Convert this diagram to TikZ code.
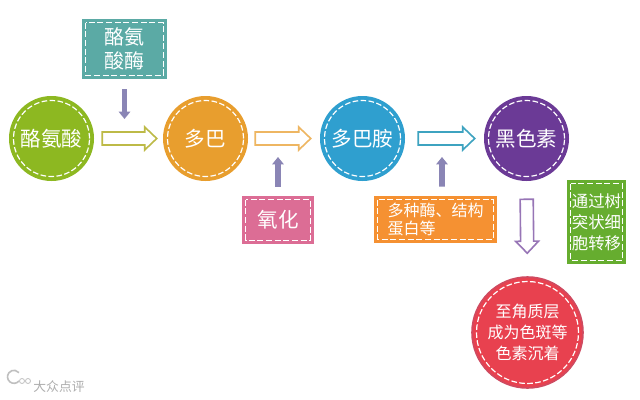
\documentclass[tikz,border=0pt]{standalone}
\usepackage{fontspec}
\setmainfont{Noto Sans CJK SC}
\usetikzlibrary{calc,arrows.meta}
\definecolor{cgreen}{HTML}{8DB821}
\definecolor{corange}{HTML}{E89E2E}
\definecolor{cblue}{HTML}{2F9FCF}
\definecolor{cpurple}{HTML}{6B3A96}
\definecolor{cred}{HTML}{E8414F}
\definecolor{credge}{HTML}{CF4A60}
\definecolor{bteal}{HTML}{5BAAA5}
\definecolor{bpink}{HTML}{DC6D95}
\definecolor{borange}{HTML}{F59132}
\definecolor{bgreen}{HTML}{66AD2F}
\definecolor{enz}{HTML}{8A85B5}
\tikzset{
  x=0.75pt,y=-0.75pt,
  ball/.style={circle,inner sep=0pt,minimum size=#1*0.75pt,text=white,align=center,
    path picture={\draw[white,line width=0.9pt,dash pattern=on 4.2pt off 1.8pt]
      (path picture bounding box.center) circle ({(#1/2-4.5)*0.75pt});}},
  tag/.style={rectangle,inner sep=0pt,text=white,
    path picture={\draw[white,line width=1.1pt,dash pattern=on 4.5pt off 2pt]
      ([xshift=2.8pt,yshift=-2.8pt]path picture bounding box.north west) rectangle
      ([xshift=-2.8pt,yshift=2.8pt]path picture bounding box.south east);}},
  big/.style={font=\fontsize{15.4pt}{18pt}\selectfont},
  enzarrow/.style={enz,line width=4.2pt,-{Triangle[length=5.5pt,width=8.5pt]}},
}
% colour, from, start gap, to, end gap
\newcommand{\hollowarrow}[5]{%
  \coordinate (hs) at ($(#2)!#3!(#4)$);
  \coordinate (he) at ($(#4)!#5!(#2)$);
  \coordinate (hb) at ($(he)!9pt!(hs)$);
  \draw[#1,fill=white,line width=1.2pt,line join=miter]
    ($(hs)!4.9pt!90:(he)$) -- ($(hb)!4.9pt!-90:(hs)$) -- ($(hb)!8.6pt!-90:(hs)$) -- (he)
    -- ($(hb)!8.6pt!90:(hs)$) -- ($(hb)!4.9pt!90:(hs)$) -- ($(hs)!4.9pt!-90:(he)$) -- cycle;
}
\begin{document}
\begin{tikzpicture}
\fill[white] (0,0) rectangle (640,400);
\useasboundingbox (0,0) rectangle (640,400);
% circles
\node[ball=85,fill=cgreen,big] (tyr) at (51.5,138.5) {酪氨酸};
\node[ball=85,fill=corange,big] (dopa) at (205.5,138.5) {多巴};
\node[ball=85,fill=cblue,big] (dopamine) at (362.5,138.5) {多巴胺};
\node[ball=85,fill=cpurple,big] (melanin) at (526.5,138.5) {黑色素};
\node[ball=111,fill=cred,draw=credge,line width=1.2pt,font=\fontsize{12pt}{15.8pt}\selectfont] (spot) at (527.5,332.5) {至角质层\\成为色斑等\\色素沉着};
% boxes
\node[tag,fill=bteal,minimum width=63.75pt,minimum height=45pt,align=center,
  font=\fontsize{15pt}{18pt}\selectfont] (enzyme) at (124.5,49) {酪氨\\酸酶};
\node[tag,fill=bpink,minimum width=54pt,minimum height=36pt,big] (oxid) at (278,220) {氧化};
\node[tag,fill=borange,minimum width=92.25pt,minimum height=35.25pt,align=left,
  font=\fontsize{12pt}{13pt}\selectfont] (protein) at (435.5,219.5) {多种酶、结构\\蛋白等};
\node[tag,fill=bgreen,minimum width=44.25pt,minimum height=63pt,align=center,
  font=\fontsize{12.3pt}{15.9pt}\selectfont] (transfer) at (596.5,222) {通过树\\突状细\\胞转移};
% free ends
\coordinate (t1) at (124.5,119);
\coordinate (t2) at (278,157);
\coordinate (t3) at (442,157);
% process arrows
\hollowarrow{cgreen!60!corange!85}{tyr.east}{6pt}{dopa.west}{4.5pt}
\hollowarrow{corange!75}{dopa.east}{5.25pt}{dopamine.west}{6.75pt}
\hollowarrow{cblue!65!bteal}{dopamine.east}{9.75pt}{melanin.west}{6.75pt}
\hollowarrow{cpurple!70}{melanin.south}{13.5pt}{spot.north}{17.25pt}
% regulators
\draw[enzarrow,shorten <=7.5pt] (enzyme.south) -- (t1);
\draw[enzarrow,shorten <=6.75pt] (oxid.north) -- (t2);
\draw[enzarrow,shorten <=6.75pt] ([xshift=4.9pt]protein.north) -- (t3);
% watermark
\draw[black!25,line width=1.2pt] (19,381) arc (40:320:6.5);
\draw[black!25,line width=0.6pt] (22,381) circle (2.5) (28,381) circle (2.5);
\node[text=black!32,font=\fontsize{9.6pt}{11pt}\selectfont,inner sep=0pt] (mark) at (59,387) {大众点评};
\end{tikzpicture}
\end{document}
